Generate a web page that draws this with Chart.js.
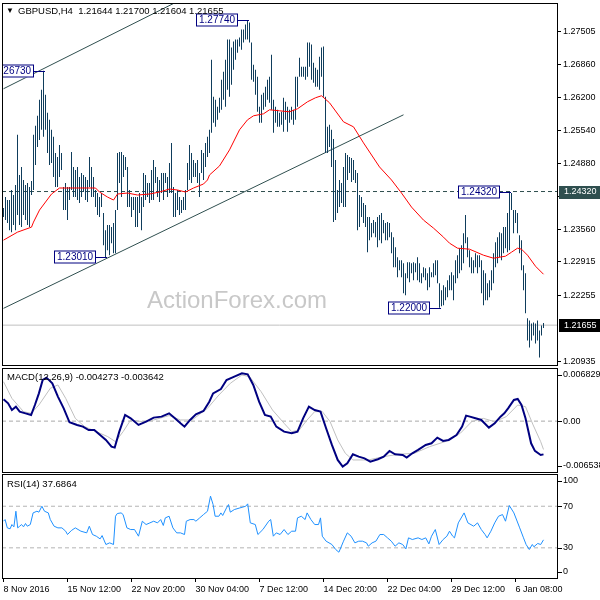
<!DOCTYPE html>
<html>
<head>
<meta charset="utf-8">
<title>GBPUSD H4</title>
<script src="https://cdn.jsdelivr.net/npm/chart.js@4"></script>
<style>
  html, body { margin: 0; padding: 0; background: #fff; }
  #wrap { position: relative; width: 600px; height: 600px; background: #fff; }
  canvas { position: absolute; left: 0; }
</style>
</head>
<body>
<div id="wrap">
  <canvas id="priceChart" width="600" height="367" style="top:0"></canvas>
  <canvas id="macdChart" width="600" height="106" style="top:367px"></canvas>
  <canvas id="rsiChart" width="600" height="127" style="top:473px"></canvas>
</div>
<script>
// H4 bars, highs and lows (oldest first)
const highs = [
  1.2399,1.2421,1.2415,1.2415,1.2435,1.2425,1.2445,1.2545,1.2465,1.2481,
  1.2455,1.2445,1.2449,1.2441,1.2453,1.2545,1.2563,1.2583,1.2615,1.2635,
  1.2673,1.2625,1.2589,1.2575,1.2555,1.2541,1.2509,1.2501,1.2525,1.2509,
  1.2441,1.2449,1.2441,1.2441,1.2511,1.2481,1.2475,1.2481,1.2461,1.2469,
  1.2465,1.2461,1.2455,1.2501,1.2481,1.2461,1.2435,1.2429,1.2421,1.2429,
  1.2389,1.2355,1.2365,1.2365,1.2361,1.2369,1.2395,1.2509,1.2511,1.2511,
  1.2505,1.2501,1.2481,1.2435,1.2421,1.2421,1.2421,1.2421,1.2429,1.2421,
  1.2469,1.2465,1.2449,1.2449,1.2475,1.2495,1.2481,1.2461,1.2455,1.2469,
  1.2469,1.2469,1.2461,1.2489,1.2529,1.2441,1.2429,1.2435,1.2421,1.2415,
  1.2421,1.2435,1.2489,1.2525,1.2509,1.2495,1.2489,1.2495,1.2469,1.2515,
  1.2509,1.2529,1.2541,1.2555,1.2695,1.2621,1.2615,1.2601,1.2619,1.2655,
  1.2671,1.2695,1.2735,1.2735,1.2719,1.2731,1.2735,1.2735,1.2739,1.2755,
  1.2755,1.2765,1.2774,1.2769,1.2729,1.2685,1.2675,1.2661,1.2601,1.2625,
  1.2629,1.2641,1.2655,1.2661,1.2705,1.2615,1.2601,1.2595,1.2589,1.2591,
  1.2619,1.2611,1.2601,1.2595,1.2601,1.2595,1.2661,1.2661,1.2699,1.2681,
  1.2681,1.2681,1.2729,1.2729,1.2725,1.2689,1.2679,1.2675,1.2701,1.2719,
  1.2721,1.2621,1.2561,1.2565,1.2555,1.2537,1.2495,1.2435,1.2455,1.2449,
  1.2481,1.2509,1.2505,1.2501,1.2499,1.2495,1.2475,1.2469,1.2425,1.2421,
  1.2409,1.2405,1.2381,1.2381,1.2369,1.2375,1.2371,1.2381,1.2385,1.2389,
  1.2375,1.2369,1.2371,1.2369,1.2351,1.2341,1.2321,1.2301,1.2295,1.2295,
  1.2289,1.2269,1.2291,1.2291,1.2289,1.2291,1.2289,1.2301,1.2289,1.2269,
  1.2281,1.2279,1.2269,1.2281,1.2271,1.2289,1.2295,1.2295,1.2249,1.2235,
  1.2245,1.2241,1.2255,1.2265,1.2271,1.2265,1.2295,1.2305,1.2319,1.2325,
  1.2349,1.2385,1.2341,1.2315,1.2301,1.2295,1.2309,1.2305,1.2305,1.2295,
  1.2275,1.2269,1.2249,1.2255,1.2275,1.2309,1.2331,1.2341,1.2351,1.2349,
  1.2361,1.2361,1.2389,1.2432,1.2429,1.2395,1.2395,1.2389,1.2345,1.2335,
  1.2285,1.2269,1.2179,1.2175,1.2169,1.2171,1.2169,1.2175,1.2155,1.2165,
  1.2170
];
const lows = [
  1.2381,1.2375,1.2369,1.2355,1.2351,1.2365,1.2355,1.2385,1.2365,1.2361,
  1.2385,1.2375,1.2365,1.2361,1.2425,1.2435,1.2485,1.2521,1.2535,1.2555,
  1.2541,1.2555,1.2509,1.2485,1.2489,1.2461,1.2441,1.2441,1.2461,1.2475,
  1.2395,1.2395,1.2375,1.2415,1.2435,1.2421,1.2421,1.2415,1.2409,1.2421,
  1.2431,1.2415,1.2411,1.2441,1.2421,1.2421,1.2401,1.2385,1.2381,1.2401,
  1.2325,1.2301,1.2315,1.2305,1.2329,1.2309,1.2309,1.2395,1.2449,1.2421,
  1.2461,1.2475,1.2401,1.2401,1.2381,1.2395,1.2361,1.2361,1.2389,1.2355,
  1.2401,1.2415,1.2421,1.2409,1.2415,1.2415,1.2449,1.2421,1.2411,1.2429,
  1.2415,1.2449,1.2421,1.2429,1.2429,1.2381,1.2381,1.2395,1.2385,1.2389,
  1.2395,1.2395,1.2435,1.2455,1.2449,1.2461,1.2461,1.2449,1.2421,1.2469,
  1.2455,1.2481,1.2501,1.2509,1.2549,1.2569,1.2561,1.2575,1.2589,1.2595,
  1.2615,1.2601,1.2635,1.2621,1.2645,1.2675,1.2695,1.2709,1.2721,1.2715,
  1.2729,1.2735,1.2735,1.2729,1.2655,1.2651,1.2625,1.2591,1.2569,1.2569,
  1.2595,1.2601,1.2615,1.2609,1.2595,1.2549,1.2569,1.2561,1.2561,1.2565,
  1.2551,1.2575,1.2551,1.2569,1.2575,1.2565,1.2575,1.2601,1.2661,1.2661,
  1.2661,1.2655,1.2661,1.2681,1.2655,1.2649,1.2641,1.2641,1.2635,1.2661,
  1.2621,1.2509,1.2509,1.2521,1.2481,1.2371,1.2375,1.2389,1.2401,1.2409,
  1.2401,1.2401,1.2455,1.2469,1.2451,1.2455,1.2449,1.2355,1.2361,1.2381,
  1.2369,1.2361,1.2311,1.2335,1.2341,1.2349,1.2341,1.2321,1.2335,1.2329,
  1.2349,1.2335,1.2335,1.2341,1.2309,1.2281,1.2281,1.2261,1.2275,1.2261,
  1.2229,1.2225,1.2259,1.2251,1.2269,1.2255,1.2271,1.2255,1.2251,1.2249,
  1.2261,1.2255,1.2235,1.2241,1.2261,1.2261,1.2265,1.2249,1.2200,1.2203,
  1.2205,1.2215,1.2221,1.2235,1.2235,1.2215,1.2249,1.2259,1.2269,1.2275,
  1.2289,1.2329,1.2301,1.2281,1.2269,1.2269,1.2281,1.2269,1.2281,1.2229,
  1.2205,1.2215,1.2215,1.2221,1.2235,1.2249,1.2281,1.2289,1.2301,1.2295,
  1.2309,1.2319,1.2311,1.2315,1.2395,1.2349,1.2369,1.2349,1.2309,1.2275,
  1.2235,1.2189,1.2135,1.2121,1.2135,1.2145,1.2129,1.2135,1.2101,1.2145,
  1.2160
];

// moving average (red), bar index -> value
const maIdx = [0,7,14,15,18,24,28,35,46,48,52,55,57,62,67,73,78,83,87,91,95,100,102,103,108,113,118,122,125,130,133,138,143,147,152,156,159,163,170,175,180,188,194,199,204,210,215,220,223,227,233,240,245,251,254,257,259,262,266,270];
const maVal = [1.2335,1.2351,1.2361,1.2371,1.2395,1.2427,1.2439,1.2439,1.2439,1.2431,1.2421,1.2415,1.2427,1.2429,1.2425,1.2427,1.2431,1.2437,1.2435,1.2431,1.2439,1.2447,1.2455,1.2465,1.2483,1.2515,1.2555,1.2575,1.2583,1.2587,1.2595,1.2593,1.2591,1.2597,1.2611,1.2619,1.2623,1.2609,1.2571,1.2561,1.2529,1.2481,1.2455,1.2429,1.2401,1.2375,1.2359,1.2341,1.2329,1.2319,1.2317,1.2305,1.2299,1.2303,1.2311,1.2319,1.2317,1.2305,1.2283,1.2267];

// hand drawn trend lines [bar index, price]
const upperLine = [[0, 1.2637], [89, 1.2815]];
const lowerLine = [[0, 1.2199], [200, 1.2585]];
const resistLevel = 1.24320;
const lastPrice = 1.21655;

// swing labels
const swingIdx = [20, 122, 51, 218, 253];
const swingPrice = [1.26730, 1.27740, 1.23010, 1.22000, 1.24320];

// price axis labels
const priceTicks = [1.27505, 1.26860, 1.26200, 1.25540, 1.24880, 1.24220, 1.23560, 1.22915, 1.22255, 1.20935];

// MACD(12,26,9)
const macdIdx = [0,2.3,4.2,6.2,8.1,11,13.8,15.7,17.7,19.6,21.5,24.4,27.2,30.1,33,36.8,39.7,42.6,45.4,48.3,51.2,54,55.6,57.9,60.8,63.6,67.5,71.3,75.1,79,82.8,85.7,88.5,90.5,93.3,96.2,100,102.9,104.8,108.7,111.5,115.4,119.2,122.1,124.9,127.8,130.7,133.6,136.4,140.3,144.1,147,149.8,152.7,155.6,158.5,161.3,164.2,167.1,169.6,171.9,174.7,177.6,180.5,183.4,187.2,190.1,193,195.8,199.6,201.6,204.4,207.3,211.1,214,216.9,219.8,222.6,226.5,229.3,231.3,233.2,236,238.9,242.7,245.6,248.5,250.4,252.3,255.2,257.1,259,261,263.8,265.7,268.6,270];
const macdVal = [0.00280,0.00229,0.00143,0.00186,0.00122,0.00100,0.00079,0.00207,0.00357,0.00529,0.00559,0.00486,0.00315,0.00165,-0.00015,-0.00049,-0.00071,-0.00114,-0.00114,-0.00178,-0.00242,-0.00328,-0.00340,-0.00135,0.00079,0.00036,-0.00049,-0.00007,0.00045,0.00058,0.00100,0.00036,-0.00028,-0.00071,0.00015,0.00088,0.00130,0.00250,0.00357,0.00413,0.00529,0.00572,0.00614,0.00602,0.00465,0.00250,0.00079,0.00058,-0.00071,-0.00135,-0.00156,-0.00135,0.00036,0.00186,0.00143,0.00122,-0.00092,-0.00306,-0.00499,-0.00585,-0.00542,-0.00426,-0.00456,-0.00478,-0.00520,-0.00490,-0.00456,-0.00383,-0.00426,-0.00435,-0.00469,-0.00413,-0.00370,-0.00306,-0.00285,-0.00212,-0.00255,-0.00242,-0.00178,-0.00071,0.00071,0.00058,0.00036,0.00015,-0.00084,-0.00028,0.00058,0.00100,0.00165,0.00272,0.00285,0.00207,0.00036,-0.00285,-0.00383,-0.00435,-0.004273];
const signalIdx = [0,4.2,10,13.8,17.7,23.4,27.2,31.1,35.9,40.6,46.4,52.1,56,59.8,63.6,69.4,75.1,82.8,88.5,94.3,102,107.7,113.4,119.2,123,128.8,134.5,140.3,144.1,147.9,151.8,155.6,159.4,163.3,167.1,170.9,174.7,182.4,190.1,197.7,205.4,213.1,220.7,228.4,234.1,239.9,245.6,251.4,257.1,261,264.8,268.6,270];
const signalVal = [0.00507,0.00293,0.00122,0.00100,0.00207,0.00422,0.00465,0.00293,0.00036,-0.00071,-0.00135,-0.00199,-0.00264,-0.00135,0.00015,-0.00007,0.00015,0.00071,0.00015,0.00015,0.00165,0.00336,0.00486,0.00593,0.00572,0.00379,0.00143,-0.00028,-0.00135,-0.00114,0.00015,0.00122,0.00122,-0.00007,-0.00242,-0.00413,-0.00499,-0.00499,-0.00456,-0.00426,-0.00413,-0.00328,-0.00264,-0.00156,-0.00007,0.00036,-0.00007,0.00058,0.00207,0.00186,-0.00049,-0.00264,-0.003642];
const macdTicks = [0.006829, 0, -0.006538];
const macdTickText = ['0.006829', '0.00', '-0.006538'];

// RSI(14)
const rsiIdx = [0,0.8,1.9,3.3,4.2,5.2,6.2,7.1,8.1,9,10,11,11.9,13.4,14.8,16.7,17.7,19.2,20.5,22.4,23.4,25.3,27.2,29.2,31.1,32,33.9,35.9,38.7,41.6,42.9,44.5,46.4,48.3,49.3,51.2,53.1,55,56,56.9,58.8,59.8,61.7,63.6,65.5,67.5,69.4,71.3,73.2,75.1,77,78.6,79.9,80.9,82.8,84.7,86.6,88.5,90.5,91.4,93.3,95.2,96.2,98.1,100,102,103.5,104.8,105.8,107.7,108.7,109.6,111.5,112.5,113.4,115.4,118.2,121.1,122.1,123.4,125.9,127.2,129.7,132.6,133.6,134.9,136.4,138.3,140.3,142.2,144.1,146,147,148.9,150.8,151.8,153.7,155.6,157.5,158.5,159.4,161.3,164.2,166.1,167.7,170,171.9,173.8,175.7,177.6,179.5,181.5,182.4,184.3,186.2,188.2,190.1,192,193.9,195.8,197.7,199.6,201.2,202.5,204.4,207.3,209.2,211.1,212.7,214,215.9,217.8,219.8,221.7,223,224.6,225.5,227.4,230.3,232.2,235.1,237,238.9,240.8,241.8,243.7,245.6,247.5,249.5,251,252.9,255.2,258.1,260,261.3,262.9,264.4,265.2,267.1,268.6,270];
const rsiVal = [55.6,57.2,49.2,48.3,52.4,50.2,65.2,49.2,50.8,52.4,50.2,53.4,50.8,52.4,63.6,65.2,64.3,70.0,65.2,63.6,57.2,50.8,49.2,49.2,46.0,42.8,46.6,49.2,46.0,44.4,50.8,42.8,41.2,38.6,41.8,33.2,34.8,33.2,60.4,63.0,63.6,62.0,49.2,47.6,47.6,41.2,55.6,52.4,54.0,55.6,54.0,57.2,51.5,58.8,60.4,49.2,44.4,44.4,42.8,55.6,57.2,57.2,55.6,58.8,62.0,65.2,79.7,71.6,60.4,60.4,63.6,61.1,68.4,71.6,64.3,66.8,68.4,70.0,72.3,54.0,52.4,42.8,47.6,55.6,57.2,41.2,44.4,42.8,47.6,42.8,46.0,46.0,58.8,60.4,57.2,63.6,57.2,52.4,52.4,58.8,41.2,36.4,33.2,28.4,25.8,36.4,44.4,41.2,34.8,36.4,36.4,34.8,31.6,34.8,36.4,42.8,42.8,39.6,36.4,31.6,34.8,33.2,29.0,39.6,38.0,39.6,38.0,39.6,33.8,41.2,47.6,33.2,38.0,41.2,46.0,41.2,39.6,54.0,63.6,54.0,50.8,54.0,47.6,42.8,39.6,46.0,54.0,60.4,62.0,55.6,70.7,63.6,49.2,39.6,33.2,28.4,33.2,31.0,34.2,33.2,37.7];
const rsiLevels = [70, 30];
const rsiTicks = [100, 70, 30, 0];

// time axis
const timeIdx = [0, 32, 64, 96, 128, 160, 192, 224, 256];
const timeText = ['8 Nov 2016', '15 Nov 12:00', '22 Nov 20:00', '30 Nov 04:00', '7 Dec 12:00',
                  '14 Dec 20:00', '22 Dec 04:00', '29 Dec 12:00', '6 Jan 08:00'];

const FONT = '"Liberation Sans", Arial, sans-serif';
const FSIZE = 9.5;   // header text
const ASIZE = 9;     // axis text
const xMin = -0.75, xMax = 276.75;
const BAR_COLOR = '#0f3d5c';

const pts = (xs, ys) => xs.map((x, i) => ({ x: x, y: ys[i] }));
const hline = (v) => [{ x: xMin, y: v }, { x: xMax, y: v }];

function drawBorder(chart) {
    const { ctx, chartArea: a } = chart;
    ctx.save();
    ctx.strokeStyle = '#000';
    ctx.lineWidth = 1;
    ctx.strokeRect(a.left + 0.5, a.top + 0.5, a.right - a.left, a.bottom - a.top);
    ctx.restore();
}

function headerText(chart, text, x, y) {
    const ctx = chart.ctx;
    ctx.save();
    ctx.fillStyle = '#000';
    ctx.font = FSIZE + 'px ' + FONT;
    ctx.textBaseline = 'middle';
    ctx.textAlign = 'left';
    ctx.fillText(text, x, y);
    ctx.restore();
}

// labels on the right of an indicator pane, kept inside the pane like MT4 does
function paneLabels(chart, values, texts) {
    const { ctx, chartArea: a } = chart;
    const s = chart.scales.y;
    ctx.save();
    ctx.font = ASIZE + 'px ' + FONT;
    ctx.fillStyle = '#000';
    ctx.strokeStyle = '#000';
    ctx.textBaseline = 'middle';
    ctx.textAlign = 'left';
    values.forEach((v, i) => {
        let y = s.getPixelForValue(v);
        y = Math.min(Math.max(y, a.top + 7), a.bottom - 6);
        const yy = Math.round(y) + 0.5;
        ctx.beginPath();
        ctx.moveTo(a.right + 1, yy);
        ctx.lineTo(a.right + 5, yy);
        ctx.stroke();
        ctx.fillText(texts[i], a.right + 6, y);
    });
    ctx.restore();
}

function axisTag(chart, value, bg) {
    const { ctx, chartArea: a } = chart;
    const y = chart.scales.y.getPixelForValue(value);
    ctx.save();
    ctx.fillStyle = bg;
    ctx.fillRect(a.right + 2, Math.round(y) - 6, 43, 13);
    ctx.fillStyle = '#fff';
    ctx.font = ASIZE + 'px ' + FONT;
    ctx.textBaseline = 'middle';
    ctx.textAlign = 'left';
    ctx.fillText(value.toFixed(5), a.right + 7, y);
    ctx.restore();
}

const mainDecor = {
    id: 'mainDecor',
    beforeDatasetsDraw(chart) {
        const ctx = chart.ctx;
        ctx.save();
        ctx.fillStyle = '#c8c8c8';
        ctx.font = '24px ' + FONT;
        ctx.textBaseline = 'middle';
        ctx.textAlign = 'left';
        ctx.fillText('ActionForex.com', 147, 301);
        ctx.restore();
    },
    afterDatasetsDraw(chart) {
        const { ctx, chartArea: a, scales } = chart;
        ctx.save();
        ctx.beginPath();
        ctx.rect(a.left, a.top, a.right - a.left, a.bottom - a.top);
        ctx.clip();
        ctx.font = '10px ' + FONT;
        ctx.textBaseline = 'middle';
        ctx.textAlign = 'left';
        swingIdx.forEach((idx, i) => {
            const px = Math.round(scales.x.getPixelForValue(idx));
            const py = Math.round(scales.y.getPixelForValue(swingPrice[i])) + 0.5;
            const text = swingPrice[i].toFixed(5);
            const w = Math.ceil(ctx.measureText(text).width) + 5;
            const right = px - 10;
            ctx.fillStyle = '#fff';
            ctx.fillRect(right - w, py - 7, w, 13);
            ctx.strokeStyle = '#000080';
            ctx.lineWidth = 1;
            ctx.strokeRect(right - w + 0.5, py - 6.5, w - 1, 12);
            ctx.beginPath();
            ctx.moveTo(right, py);
            ctx.lineTo(px + 1, py);
            ctx.stroke();
            ctx.fillStyle = '#000080';
            ctx.fillText(text, right - w + 3, py);
        });
        ctx.restore();
    },
    afterDraw(chart) {
        drawBorder(chart);
        const ctx = chart.ctx;
        ctx.save();
        ctx.fillStyle = '#000';
        ctx.font = '8px ' + FONT;
        ctx.textBaseline = 'middle';
        ctx.fillText('\u25BC', 6, 11);
        ctx.restore();
        headerText(chart, 'GBPUSD,H4  1.21644 1.21700 1.21604 1.21655', 18, 11);
        axisTag(chart, resistLevel, '#2f4f4f');
        axisTag(chart, lastPrice, '#000');
    }
};

const baseOptions = (pad) => ({
    responsive: false,
    animation: false,
    events: [],
    layout: { autoPadding: false, padding: pad },
    plugins: { legend: { display: false }, tooltip: { enabled: false } }
});

const hiddenX = {
    type: 'linear', min: xMin, max: xMax, display: false, offset: false
};

// price pane
new Chart(document.getElementById('priceChart'), {
    type: 'bar',
    data: {
        datasets: [
            {
                type: 'line', data: hline(lastPrice), borderColor: '#c0c0c0', borderWidth: 1,
                pointRadius: 0, order: 6
            },
            {
                type: 'line', data: hline(resistLevel), borderColor: '#2f4f4f', borderWidth: 1,
                borderDash: [4, 3], pointRadius: 0, order: 5
            },
            {
                type: 'line', data: upperLine.map(p => ({ x: p[0], y: p[1] })), borderColor: '#2f4f4f',
                borderWidth: 1, pointRadius: 0, order: 4
            },
            {
                type: 'line', data: lowerLine.map(p => ({ x: p[0], y: p[1] })), borderColor: '#2f4f4f',
                borderWidth: 1, pointRadius: 0, order: 4
            },
            {
                type: 'bar',
                data: highs.map((h, i) => ({ x: i, y: [lows[i], h] })),
                backgroundColor: BAR_COLOR, borderWidth: 0, barThickness: 1, inflateAmount: 0,
                grouped: false, order: 3
            },
            {
                type: 'line', data: pts(maIdx, maVal), borderColor: '#ff0000', borderWidth: 1,
                pointRadius: 0, tension: 0, order: 1
            }
        ]
    },
    options: Object.assign(baseOptions({ left: 2, top: 3, right: 0, bottom: 2 }), {
        scales: {
            x: Object.assign({}, hiddenX, { grid: { offset: false } }),
            y: {
                position: 'right', min: 1.2086, max: 1.2808,
                afterFit: s => { s.width = 43; s.paddingTop = 0; s.paddingBottom = 0; },
                afterBuildTicks: s => { s.ticks = priceTicks.map(v => ({ value: v })); },
                ticks: {
                    callback: v => v.toFixed(5), color: '#000', padding: 2,
                    font: { family: FONT, size: ASIZE }
                },
                grid: { drawOnChartArea: false, tickLength: 4, color: '#000' },
                border: { display: false }
            }
        }
    }),
    plugins: [mainDecor]
});

// MACD pane
new Chart(document.getElementById('macdChart'), {
    type: 'line',
    data: {
        datasets: [
            { data: hline(0), borderColor: '#a9a9a9', borderWidth: 1, borderDash: [4, 3], pointRadius: 0, order: 3 },
            { data: pts(signalIdx, signalVal), borderColor: '#c0c0c0', borderWidth: 1, pointRadius: 0, order: 2 },
            { data: pts(macdIdx, macdVal), borderColor: '#000080', borderWidth: 2, pointRadius: 0, order: 1 }
        ]
    },
    options: Object.assign(baseOptions({ left: 2, top: 1, right: 0, bottom: 1 }), {
        scales: {
            x: hiddenX,
            y: {
                position: 'right', min: -0.006538, max: 0.006829,
                afterFit: s => { s.width = 43; },
                ticks: { display: false }, grid: { display: false }, border: { display: false }
            }
        }
    }),
    plugins: [{
        id: 'macdDecor',
        afterDraw(chart) {
            drawBorder(chart);
            headerText(chart, 'MACD(12,26,9) -0.004273 -0.003642', 7, 10);
            paneLabels(chart, macdTicks, macdTickText);
        }
    }]
});

// RSI pane
new Chart(document.getElementById('rsiChart'), {
    type: 'line',
    data: {
        datasets: rsiLevels.map(v => ({
            data: hline(v), borderColor: '#b4b4b4', borderWidth: 1, borderDash: [4, 3], pointRadius: 0, order: 2
        })).concat([
            { data: pts(rsiIdx, rsiVal), borderColor: '#1e90ff', borderWidth: 1, pointRadius: 0, order: 1 }
        ])
    },
    options: Object.assign(baseOptions({ left: 2, top: 1, right: 0, bottom: 1 }), {
        scales: {
            x: {
                type: 'linear', min: xMin, max: xMax, position: 'bottom', offset: false,
                afterFit: s => { s.height = 21; s.paddingLeft = 0; s.paddingRight = 0; },
                afterBuildTicks: s => { s.ticks = timeIdx.map(v => ({ value: v })); },
                ticks: {
                    callback: v => timeText[timeIdx.indexOf(v)], align: 'start', maxRotation: 0,
                    autoSkip: false, padding: 2, color: '#000', font: { family: FONT, size: ASIZE }
                },
                grid: { drawOnChartArea: false, tickLength: 4, color: '#000' },
                border: { display: false }
            },
            y: {
                position: 'right', min: 1, max: 101,
                afterFit: s => { s.width = 43; },
                ticks: { display: false }, grid: { display: false }, border: { display: false }
            }
        }
    }),
    plugins: [{
        id: 'rsiDecor',
        afterDraw(chart) {
            drawBorder(chart);
            headerText(chart, 'RSI(14) 37.6864', 7, 11);
            paneLabels(chart, rsiTicks, rsiTicks.map(String));
        }
    }]
});
</script>
</body>
</html>
